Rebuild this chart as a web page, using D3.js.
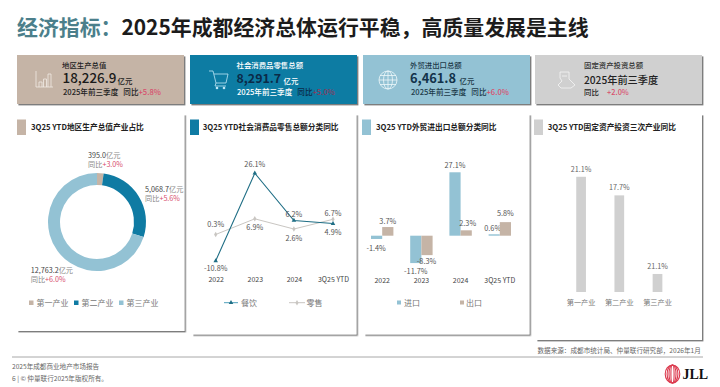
<!DOCTYPE html>
<html>
<head>
<meta charset="utf-8">
<script src="https://cdn.jsdelivr.net/npm/d3@7"></script>
<style>
html, body { margin: 0; padding: 0; background: #fff; }
svg { display: block; }
text { font-family: "Noto Sans CJK SC", "Noto Sans", sans-serif; }
</style>
</head>
<body>
<svg width="720" height="387"></svg>
<script>
// 第一张：产业占比
var gdpNames = ['第一产业', '第二产业', '第三产业'];
var gdpValues = [395.0, 5068.7, 12763.2];
var gdpValueLabels = ['395.0', '5,068.7', '12,763.2'];
var gdpGrowth = ['+3.0%', '+5.6%', '+6.0%'];

// 第二张：社零
var retailYears = ['2022', '2023', '2024', '3Q25 YTD'];
var cateringValues = [-10.8, 26.1, 6.2, 4.9];
var retailValues = [0.3, 6.9, 2.6, 6.7];

// 第三张：外贸
var tradeYears = ['2022', '2023', '2024', '3Q25 YTD'];
var importValues = [-1.4, -11.7, 27.1, 0.6];
var exportValues = [3.7, -8.3, 2.3, 5.8];

// 第四张：固投 (第三根柱子的标签和高度对不上，原图如此)
var investNames = ['第一产业', '第二产业', '第三产业'];
var investValues = [21.1, 17.7, 3.3];
var investLabels = ['21.1%', '17.7%', '21.1%'];

var tan = '#c5b4a6', blue = '#0f7ba3', lightBlue = '#93c2d4', grey = '#d0d0d0', pink = '#d8506e';
var labelColor = '#555', navy = '#0b2a48';

var svg = d3.select('svg');

var defs = svg.append('defs');
defs.append('filter').attr('id', 'shadow')
    .attr('x', '-5%').attr('y', '-5%').attr('width', '112%').attr('height', '112%')
    .append('feDropShadow')
    .attr('dx', 1.4).attr('dy', 1.4).attr('stdDeviation', 0.5)
    .attr('flood-color', '#666').attr('flood-opacity', 0.85);

function txt(parent, x, y, s, size, color, weight) {
    return parent.append('text')
        .attr('x', x).attr('y', y)
        .attr('font-size', size)
        .attr('font-weight', weight || 400)
        .attr('fill', color)
        .text(s);
}

function label(parent, x, y, s, size, color) {
    return txt(parent, x, y, s, size || 7.3, color || labelColor)
        .attr('text-anchor', 'middle')
        .attr('dominant-baseline', 'central');
}

// 标题
var title = txt(svg, 17, 35, '', 20.9, '#1c1c1c', 700);
title.append('tspan').attr('fill', '#4b7f8b').text('经济指标：');
title.append('tspan').text('2025年成都经济总体运行平稳，高质量发展是主线');

// 顶部四张卡片
var cards = [
    { x: 17, w: 167, fill: tan },
    { x: 190, w: 167, fill: blue },
    { x: 363, w: 167, fill: lightBlue },
    { x: 535, w: 167, fill: grey }
];
svg.selectAll('.card').data(cards).enter().append('rect')
    .attr('class', 'card')
    .attr('x', d => d.x).attr('y', 55)
    .attr('width', d => d.w).attr('height', 49)
    .attr('fill', d => d.fill)
    .attr('filter', 'url(#shadow)');

txt(svg, 62, 67.5, '地区生产总值', 7.4, '#222', 500);
txt(svg, 62.5, 83, '18,226.9', 13.4, '#1a1a1a', 500);
txt(svg, 117.5, 83.5, '亿元', 7.4, '#222', 500);
var s1 = txt(svg, 63, 95, '2025年前三季度', 7.6, '#222', 500);
s1.append('tspan').attr('dx', 5).text('同比');
s1.append('tspan').attr('fill', pink).text('+5.8%');

txt(svg, 236.5, 67.5, '社会消费品零售总额', 7.4, '#fff', 500);
txt(svg, 236.5, 83, '8,291.7', 12.4, navy, 700);
txt(svg, 283.5, 83.5, '亿元', 7.4, '#fff', 500);
var s2 = txt(svg, 237, 95, '2025年前三季度', 7.6, '#fff', 500);
s2.append('tspan').attr('dx', 5).attr('fill', navy).text('同比');
s2.append('tspan').attr('fill', '#8a3a5c').text('+5.0%');

txt(svg, 410, 67.5, '外贸进出口总额', 7.4, '#1d3b4a', 500);
txt(svg, 410, 83, '6,461.8', 12.8, '#12324a', 700);
txt(svg, 459.5, 83.5, '亿元', 7.4, '#1d3b4a', 500);
var s3 = txt(svg, 411, 95, '2025年前三季度', 7.6, '#1d3b4a', 500);
s3.append('tspan').attr('dx', 5).text('同比');
s3.append('tspan').attr('fill', pink).text('+6.0%');

txt(svg, 584, 67.5, '固定资产投资总额', 7.4, '#333', 500);
txt(svg, 584, 84, '2025年前三季度', 10.2, '#222', 500);
txt(svg, 584, 95, '同比', 7.4, '#222', 500);
txt(svg, 607, 95, '+2.0%', 7.4, pink, 500);

// 卡片图标
function icon(x, y, d, color) {
    svg.append('path')
        .attr('transform', 'translate(' + x + ',' + y + ')')
        .attr('d', d)
        .attr('fill', 'none')
        .attr('stroke', color)
        .attr('stroke-width', 0.8);
}
icon(36, 71, 'M0 0V16H17M3 16V11H6V16M7.5 16V8H10.5V16M12 16V3H15V16', '#f1ebe4');
icon(209, 71, 'M0 0H4L7 12H17L19 3H5M7 12L6 15H17', '#bfe6f5');
svg.append('circle').attr('cx', 217).attr('cy', 88).attr('r', 1.3).attr('fill', '#bfe6f5');
svg.append('circle').attr('cx', 224).attr('cy', 88).attr('r', 1.3).attr('fill', '#bfe6f5');
icon(388, 80, 'M-9 0H9M-8 -4.5H8M-8 4.5H8M0 -9V9', '#eef7fa');
svg.append('ellipse').attr('cx', 388).attr('cy', 80).attr('rx', 4.5).attr('ry', 9)
    .attr('fill', 'none').attr('stroke', '#eef7fa').attr('stroke-width', 0.8);
svg.append('circle').attr('cx', 388).attr('cy', 80).attr('r', 9)
    .attr('fill', 'none').attr('stroke', '#eef7fa').attr('stroke-width', 0.8);
icon(558, 72, 'M2 0H11V7L17 13L13 16H3L0 13L4 9L2 6Z M4 4H9', '#f5f5f5');

// 下方四个白色面板
var panels = [
    { x: 17, x1: 184.5, y1: 331, mark: tan, markX: 17, titleX: 31, name: '3Q25 YTD地区生产总值产业占比' },
    { x: 192, x1: 356.5, y1: 334.5, mark: blue, markX: 190, titleX: 202.7, name: '3Q25 YTD社会消费品零售总额分类同比' },
    { x: 364, x1: 529.5, y1: 334.5, mark: lightBlue, markX: 362, titleX: 376, name: '3Q25 YTD外贸进出口总额分类同比' },
    { x: 536, x1: 702, y1: 340, mark: grey, markX: 534, titleX: 547.7, name: '3Q25 YTD固定资产投资三次产业同比' }
];
svg.selectAll('.panel').data(panels).enter().append('rect')
    .attr('class', 'panel')
    .attr('x', d => d.x).attr('y', 114)
    .attr('width', d => d.x1 - d.x).attr('height', d => d.y1 - 114)
    .attr('fill', '#fff')
    .attr('filter', 'url(#shadow)');
svg.selectAll('.mark').data(panels).enter().append('rect')
    .attr('class', 'mark')
    .attr('x', d => d.markX).attr('y', 119.5)
    .attr('width', 9).attr('height', 15.5)
    .attr('fill', d => d.mark);
panels.forEach(function(d) {
    txt(svg, d.titleX, 130, d.name, 7.7, '#222', 700);
});

// 环形图
var gdpColor = d3.scaleOrdinal().domain(gdpNames).range([tan, blue, lightBlue]);
var pie = d3.pie().sort(null).value(d => d.value);
var arc = d3.arc().innerRadius(37).outerRadius(49);
var gdpData = gdpNames.map((n, i) => ({ name: n, value: gdpValues[i] }));
var donut = svg.append('g').attr('transform', 'translate(97,222)');
donut.selectAll('path').data(pie(gdpData)).enter().append('path')
    .attr('d', arc)
    .attr('fill', d => gdpColor(d.data.name));

var gdpLabelX = [88, 145, 30.7];
var gdpLabelY = [155.2, 188.8, 269.8];
gdpNames.forEach(function(n, i) {
    var a = txt(svg, gdpLabelX[i], gdpLabelY[i], gdpValueLabels[i], 7.2, '#444').attr('dominant-baseline', 'central');
    a.append('tspan').attr('fill', '#888').text('亿元');
    var b = txt(svg, gdpLabelX[i], gdpLabelY[i] + 9.2, '同比', 7.2, '#888').attr('dominant-baseline', 'central');
    b.append('tspan').attr('fill', pink).text(gdpGrowth[i]);
});

var gdpLegendX = [29, 74, 119];
gdpNames.forEach(function(n, i) {
    svg.append('rect').attr('x', gdpLegendX[i]).attr('y', 300.5)
        .attr('width', 4.5).attr('height', 4.5).attr('fill', gdpColor(n));
    txt(svg, gdpLegendX[i] + 7.5, 302.7, n, 8, '#777').attr('dominant-baseline', 'central');
});

// 折线图
var xLine = d3.scalePoint().domain(retailYears).range([215.7, 333]);
var yLine = d3.scaleLinear().domain([-15, 30]).range([270.8, 164]);
var line = d3.line().x((d, i) => xLine(retailYears[i])).y(d => yLine(d));
var lineColor = '#1f6e85', retailColor = '#c9c6c2';

svg.append('g').attr('transform', 'translate(0,277.5)')
    .call(d3.axisBottom(xLine).tickSize(0).tickPadding(0))
    .call(g => g.select('.domain').remove())
    .selectAll('text').attr('font-size', 7).attr('fill', '#444').attr('font-family', null);

svg.append('path').datum(retailValues)
    .attr('d', line).attr('fill', 'none').attr('stroke', retailColor).attr('stroke-width', 1);
svg.append('path').datum(cateringValues)
    .attr('d', line).attr('fill', 'none').attr('stroke', lineColor).attr('stroke-width', 1.1);

var tri = d3.symbol().type(d3.symbolTriangle).size(9);
var dia = d3.symbol().type(d3.symbolDiamond).size(9);
svg.selectAll('.retailPt').data(retailValues).enter().append('path')
    .attr('class', 'retailPt').attr('d', dia).attr('fill', retailColor)
    .attr('transform', (d, i) => 'translate(' + xLine(retailYears[i]) + ',' + yLine(d) + ')');
svg.selectAll('.cateringPt').data(cateringValues).enter().append('path')
    .attr('class', 'cateringPt').attr('d', tri).attr('fill', lineColor)
    .attr('transform', (d, i) => 'translate(' + xLine(retailYears[i]) + ',' + yLine(d) + ')');

var cateringDy = [7, -9, -6.5, 8];
var retailDy = [-10, 8.5, 8.5, -6];
cateringValues.forEach(function(v, i) {
    label(svg, xLine(retailYears[i]), yLine(v) + cateringDy[i], v.toFixed(1) + '%');
});
retailValues.forEach(function(v, i) {
    label(svg, xLine(retailYears[i]), yLine(v) + retailDy[i], v.toFixed(1) + '%');
});

// 折线图图例
svg.append('line').attr('x1', 224).attr('x2', 238).attr('y1', 302.7).attr('y2', 302.7)
    .attr('stroke', '#4f9fbb').attr('stroke-width', 1);
svg.append('path').attr('d', tri).attr('fill', lineColor).attr('transform', 'translate(231,302.7)');
txt(svg, 241, 302.7, '餐饮', 8, '#777').attr('dominant-baseline', 'central');
svg.append('line').attr('x1', 289).attr('x2', 305).attr('y1', 302.7).attr('y2', 302.7)
    .attr('stroke', retailColor).attr('stroke-width', 1);
svg.append('path').attr('d', dia).attr('fill', retailColor).attr('transform', 'translate(297,302.7)');
txt(svg, 306.5, 302.7, '零售', 8, '#777').attr('dominant-baseline', 'central');

// 外贸柱状图
var xBar = d3.scaleBand().domain(tradeYears).range([362.6, 519.4]).paddingInner(0.4286).paddingOuter(0.2143);
var xSub = d3.scaleBand().domain(['import', 'export']).range([0, xBar.bandwidth()]);
var yBar = d3.scaleLinear().domain([-15, 30]).range([270.8, 165.5]);

svg.append('g').attr('transform', 'translate(0,278.5)')
    .call(d3.axisBottom(xBar).tickSize(0).tickPadding(0))
    .call(g => g.select('.domain').remove())
    .selectAll('text').attr('font-size', 7).attr('fill', '#444').attr('font-family', null);

function tradeBars(values, key, color, dy, dx) {
    svg.selectAll('.bar-' + key).data(values).enter().append('rect')
        .attr('class', 'bar-' + key)
        .attr('x', (d, i) => xBar(tradeYears[i]) + xSub(key))
        .attr('y', d => yBar(Math.max(0, d)))
        .attr('width', xSub.bandwidth())
        .attr('height', d => Math.abs(yBar(d) - yBar(0)))
        .attr('fill', color);
    values.forEach(function(v, i) {
        label(svg, xBar(tradeYears[i]) + xSub(key) + xSub.bandwidth() / 2 + dx[i], yBar(v) + dy[i], v.toFixed(1) + '%');
    });
}
tradeBars(importValues, 'import', lightBlue, [9, 8, -7, -6.5], [-0.5, 0, 0, -1.5]);
tradeBars(exportValues, 'export', tan, [-6, 6.3, -7.5, -9], [0, -0.5, 1.5, 0]);

svg.append('rect').attr('x', 397).attr('y', 300.5).attr('width', 4).attr('height', 4).attr('fill', lightBlue);
txt(svg, 404, 302.7, '进口', 8, '#777').attr('dominant-baseline', 'central');
svg.append('rect').attr('x', 460).attr('y', 300.5).attr('width', 4).attr('height', 4).attr('fill', tan);
txt(svg, 466, 302.7, '出口', 8, '#777').attr('dominant-baseline', 'central');

// 固投柱状图
var xInvest = d3.scaleBand().domain(investNames).range([562, 676.6]).paddingInner(0.746).paddingOuter(0.373);
var yInvest = d3.scaleLinear().domain([0, 25]).range([292, 155.5]);

svg.append('g').attr('transform', 'translate(0,299.5)')
    .call(d3.axisBottom(xInvest).tickSize(0).tickPadding(0))
    .call(g => g.select('.domain').remove())
    .selectAll('text').attr('font-size', 7.2).attr('fill', '#777').attr('font-family', null);

svg.selectAll('.invest').data(investValues).enter().append('rect')
    .attr('class', 'invest')
    .attr('x', (d, i) => xInvest(investNames[i]))
    .attr('y', d => yInvest(d))
    .attr('width', xInvest.bandwidth())
    .attr('height', d => yInvest(0) - yInvest(d))
    .attr('fill', grey);
investValues.forEach(function(v, i) {
    label(svg, xInvest(investNames[i]) + xInvest.bandwidth() / 2, yInvest(v) - 8, investLabels[i], 7.2, '#666');
});

// 页脚
txt(svg, 537.5, 352.5, '数据来源：成都市统计局、仲量联行研究部，2026年1月', 6.6, '#666');
svg.append('line').attr('x1', 12).attr('x2', 703).attr('y1', 357).attr('y2', 357)
    .attr('stroke', '#a8a8a8').attr('stroke-width', 1);
txt(svg, 12, 368.5, '2025年成都商业地产市场报告', 6.6, '#666');
txt(svg, 12, 381.3, '6 | © 仲量联行2025年版权所有。', 6.6, '#666');

// JLL 标志
var logo = svg.append('g').attr('transform', 'translate(672.5,374)');
[[7.3, 9], [5.4, 9], [3.5, 9], [1.6, 9]].forEach(function(r) {
    logo.append('ellipse').attr('rx', r[0]).attr('ry', r[1])
        .attr('fill', 'none').attr('stroke', '#dc3a4e').attr('stroke-width', 1.1);
});
txt(svg, 682.5, 379, 'JLL', 14, '#111', 700).style('font-family', '"Liberation Serif", serif');
</script>
</body>
</html>
